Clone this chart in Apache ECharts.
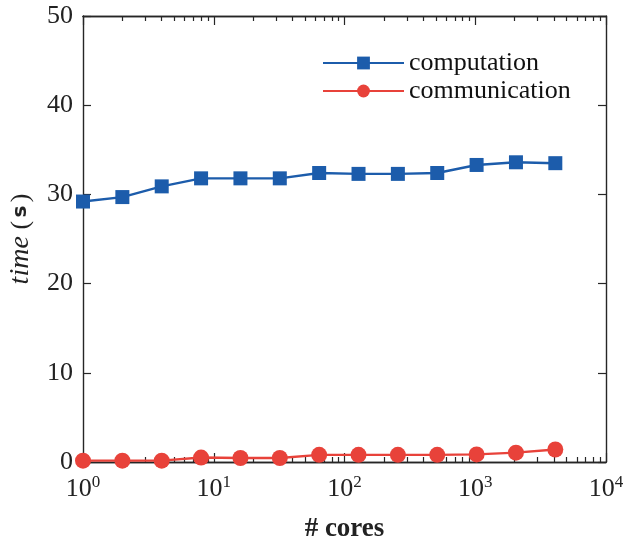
<!DOCTYPE html>
<html><head><meta charset="utf-8">
<script src="https://cdn.jsdelivr.net/npm/echarts@6/dist/echarts.min.js"></script>
<style>html,body{margin:0;padding:0;background:#fff}#c{width:625px;height:542px}</style>
</head><body><div id="c"></div>
<script>
const cores = [1, 2, 4, 8, 16, 32, 64, 128, 256, 512, 1024, 2048, 4096];
const computation = [29.2, 29.7, 30.9, 31.8, 31.8, 31.8, 32.4, 32.3, 32.3, 32.4, 33.3, 33.6, 33.5];
const communication = [0.15, 0.15, 0.15, 0.5, 0.45, 0.45, 0.8, 0.8, 0.8, 0.8, 0.85, 1.05, 1.4];
const xMajor = [1, 10, 100, 1000, 10000];
const xMinor = [2,3,4,5,6,7,8,9,20,30,40,50,60,70,80,90,200,300,400,500,600,700,800,900,2000,3000,4000,5000,6000,7000,8000,9000];
const yTicks = [0, 10, 20, 30, 40, 50];

const FONT = 'Liberation Serif';
const AX = '#262626';
const TXT = '#222';
const blue = '#1c5cab';
const red = '#e8423a';

function mkX(pos, custom, len, labels, name) {
  return {
    type: 'log', logBase: 10, min: 1, max: 10000, position: pos, gridIndex: 0,
    axisLine: { show: true, onZero: false, lineStyle: { color: AX, width: 1.4 } },
    axisTick: { show: true, inside: true, length: len, customValues: custom, lineStyle: { color: AX, width: 1.2 } },
    axisLabel: labels ? {
      show: true, margin: 12, customValues: xMajor,
      formatter: v => '{b|10}{s|' + Math.round(Math.log10(v)) + '}',
      rich: { b: { fontFamily: FONT, fontSize: 26, color: TXT }, s: { fontFamily: FONT, fontSize: 17, color: TXT, padding: [0, 0, 14, 0] } }
    } : { show: false },
    splitLine: { show: false }, minorTick: { show: false },
    name: name || '', nameLocation: 'middle', nameGap: 54,
    nameTextStyle: { fontFamily: FONT, fontSize: 27, fontWeight: 'bold', color: TXT }
  };
}
function mkY(pos, labels) {
  return {
    type: 'value', min: 0, max: 50, interval: 10, position: pos,
    axisLine: { show: true, onZero: false, lineStyle: { color: AX, width: 1.4 } },
    axisTick: { show: true, inside: true, length: 8, lineStyle: { color: AX, width: 1.2 } },
    axisLabel: labels ? { show: true, margin: 10, fontFamily: FONT, fontSize: 26, color: TXT } : { show: false },
    splitLine: { show: false },
    name: labels ? '{i|time}  {p|(} {b|s} {p|)}' : '', nameLocation: 'middle', nameGap: 48, nameRotate: 90,
    nameTextStyle: { rich: {
      i: { fontFamily: FONT, fontSize: 28, fontStyle: 'italic', color: TXT },
      p: { fontFamily: FONT, fontSize: 26, color: TXT },
      b: { fontFamily: 'DejaVu Sans', fontSize: 20, fontWeight: 'bold', color: TXT } } }
  };
}

const chart = echarts.init(document.getElementById('c'), null, { renderer: 'canvas' });
chart.setOption({
  animation: false,
  backgroundColor: '#fff',
  grid: { left: 83, right: 19, top: 16, bottom: 80, containLabel: false, outerBoundsMode: 'none' },
  xAxis: [
    mkX('bottom', xMajor, 9, true, '# cores'),
    mkX('bottom', xMinor, 5, false),
    mkX('top', xMajor, 9, false),
    mkX('top', xMinor, 5, false)
  ],
  yAxis: [mkY('left', true), mkY('right', false)],
  legend: {
    orient: 'vertical', left: 317, top: 45, itemWidth: 81, itemHeight: 16, itemGap: 2,
    textStyle: { fontFamily: FONT, fontSize: 26, color: '#111' },
    data: ['computation', 'communication']
  },
  series: [
    {
      name: 'computation', type: 'line', xAxisIndex: 0, yAxisIndex: 0,
      data: cores.map((c, i) => [c, computation[i]]),
      symbol: 'rect', symbolSize: 14,
      lineStyle: { color: blue, width: 2.4 }, itemStyle: { color: blue }
    },
    {
      name: 'communication', type: 'line', xAxisIndex: 0, yAxisIndex: 0,
      data: cores.map((c, i) => [c, communication[i]]),
      symbol: 'circle', symbolSize: 16,
      lineStyle: { color: red, width: 2.4 }, itemStyle: { color: red }
    }
  ]
});
</script></body></html>
